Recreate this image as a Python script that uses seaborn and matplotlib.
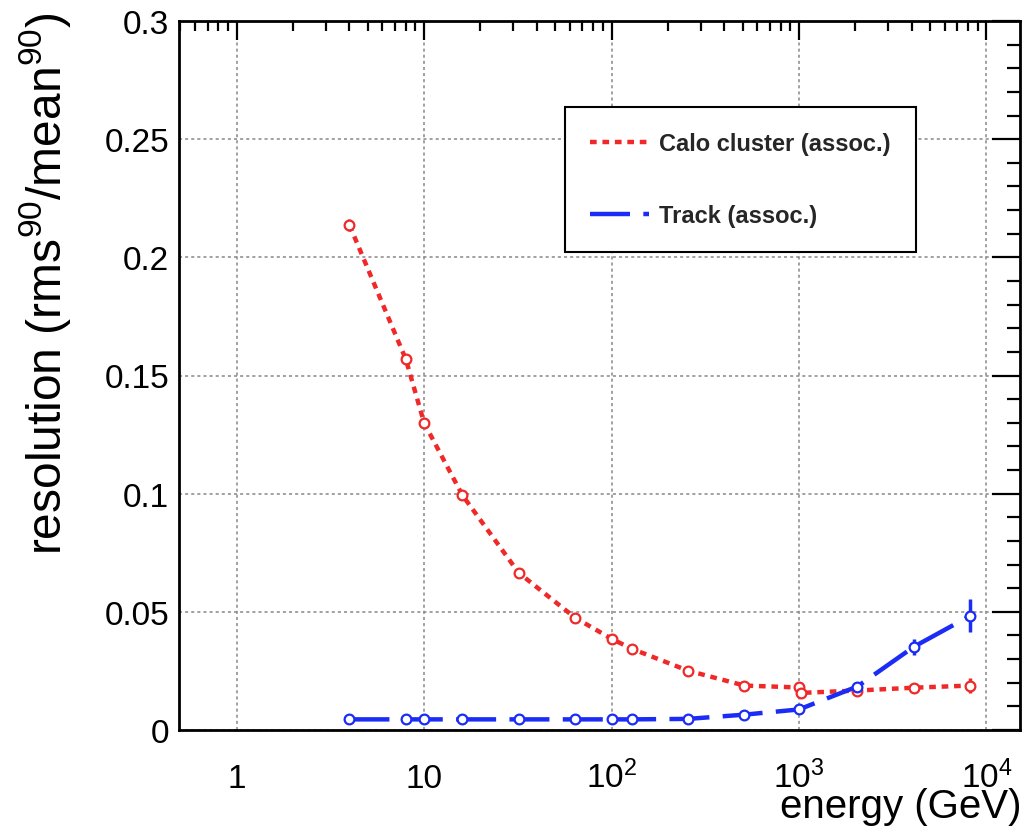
import numpy as np
import pandas as pd
import matplotlib
matplotlib.use("Agg")
import matplotlib.pyplot as plt
import seaborn as sns
from matplotlib.ticker import FixedLocator, LogLocator, MultipleLocator, FuncFormatter, NullFormatter

# ---- data ----
calo_energy = [4, 8, 10, 16, 32, 64, 100, 128, 256, 512, 1000, 1024, 2048, 4096, 8192]
calo_res    = [0.2137, 0.1568, 0.1300, 0.0994, 0.0665, 0.0475, 0.0386, 0.0344, 0.0251,
               0.0188, 0.0180, 0.0157, 0.0167, 0.0179, 0.0188]
calo_err    = [0.0025, 0.0020, 0.0012, 0.0010, 0.0008, 0.0007, 0.0007, 0.0007, 0.0006,
               0.0006, 0.0007, 0.0007, 0.0008, 0.0010, 0.0030]

track_energy = [4, 8, 10, 16, 32, 64, 100, 128, 256, 512, 1000, 2048, 4096, 8192]
track_res    = [0.0045, 0.0045, 0.0045, 0.0045, 0.0045, 0.0045, 0.0045, 0.0045, 0.0047,
                0.0065, 0.0087, 0.0184, 0.0352, 0.0483]
track_err    = [0.0004, 0.0004, 0.0004, 0.0004, 0.0004, 0.0004, 0.0004, 0.0004, 0.0004,
                0.0005, 0.0012, 0.0010, 0.0034, 0.0070]

x_tick_pos    = [1, 10, 100, 1000, 10000]
x_tick_labels = ["1", "10", r"$10^{2}$", r"$10^{3}$", r"$10^{4}$"]

calo_label  = "Calo cluster (assoc.)"
track_label = "Track (assoc.)"
x_title = "energy (GeV)"
y_title = r"resolution (rms$^{90}$/mean$^{90}$)"

RED = "#f02828"
BLUE = "#1a2cf5"

sns.set_theme(style="white")
plt.rcParams["font.family"] = ["Liberation Sans", "DejaVu Sans"]
plt.rcParams["mathtext.default"] = "regular"

fig = plt.figure(figsize=(10.36, 8.29), dpi=100)
ax = fig.add_axes([179/1036, (829-731)/829, (1020-179)/1036, (731-22)/829])
ax.set_facecolor("white")

calo_df = pd.DataFrame({"energy": calo_energy, "res": calo_res})
track_df = pd.DataFrame({"energy": track_energy, "res": track_res})

sns.lineplot(data=calo_df, x="energy", y="res", ax=ax, color=RED, lw=3.2,
             linestyle=(0, (1.5, 1.3)), sort=False, estimator=None, label=calo_label)
sns.lineplot(data=track_df, x="energy", y="res", ax=ax, color=BLUE, lw=3.2,
             linestyle=(0, (9, 3)), sort=False, estimator=None, label=track_label)
handles = list(ax.lines[:2])

ax.errorbar(calo_energy, calo_res, yerr=calo_err, fmt="o", ms=7, mfc="white",
            mec=RED, mew=1.6, ecolor=RED, elinewidth=2.5, capsize=0, zorder=5)
ax.errorbar(track_energy, track_res, yerr=track_err, fmt="o", ms=7, mfc="white",
            mec=BLUE, mew=1.6, ecolor=BLUE, elinewidth=2.5, capsize=0, zorder=5)

ax.set_xscale("log")
ax.set_xlim(0.493, 15100)
ax.set_ylim(0, 0.3)

ax.xaxis.set_major_locator(FixedLocator(x_tick_pos))
ax.set_xticklabels(x_tick_labels)
ax.xaxis.set_minor_locator(LogLocator(base=10, subs=np.arange(2, 10), numticks=20))
ax.xaxis.set_minor_formatter(NullFormatter())
ax.yaxis.set_major_locator(MultipleLocator(0.05))
ax.yaxis.set_minor_locator(MultipleLocator(0.01))
ax.yaxis.set_major_formatter(FuncFormatter(lambda v, p: f"{v:g}"))

ax.grid(True, which="major", color="#888888", linestyle=(0, (2, 2)), lw=1.1)
for s in ax.spines.values():
    s.set_color("black")
    s.set_linewidth(2)
    s.set_visible(True)

ax.tick_params(which="both", direction="in", top=True, right=True, color="black", width=1.6)
ax.tick_params(axis="y", which="major", length=20, pad=7, labelsize=24, labelcolor="black")
ax.tick_params(axis="y", which="minor", length=9.5)
ax.tick_params(axis="x", which="major", length=13.5, pad=41, labelsize=24, labelcolor="black")
ax.tick_params(axis="x", which="minor", length=7)
plt.setp(ax.get_xticklabels(), va="baseline")

ax.set_xlabel("")
ax.set_ylabel(y_title, fontsize=34.5, color="black", loc="top")
ax.yaxis.set_label_coords(-0.159, 1.014)
ax.yaxis.label.set_va("center")
fig.text(1021/1036, 1 - 818/829, x_title, fontsize=29, ha="right", va="baseline", color="black")

leg = ax.legend(handles=handles, labels=[calo_label, track_label], loc="upper left",
                bbox_to_anchor=(565/1036, 1 - 108/829), bbox_transform=fig.transFigure,
                fancybox=False, framealpha=1, edgecolor="black",
                prop={"weight": "bold", "size": 17}, handlelength=2.5, handletextpad=0.45,
                borderpad=1.05, labelspacing=2.1, borderaxespad=0)
leg.get_frame().set_linewidth(1.5)

fig.savefig("out.png", dpi=100, facecolor="white")
